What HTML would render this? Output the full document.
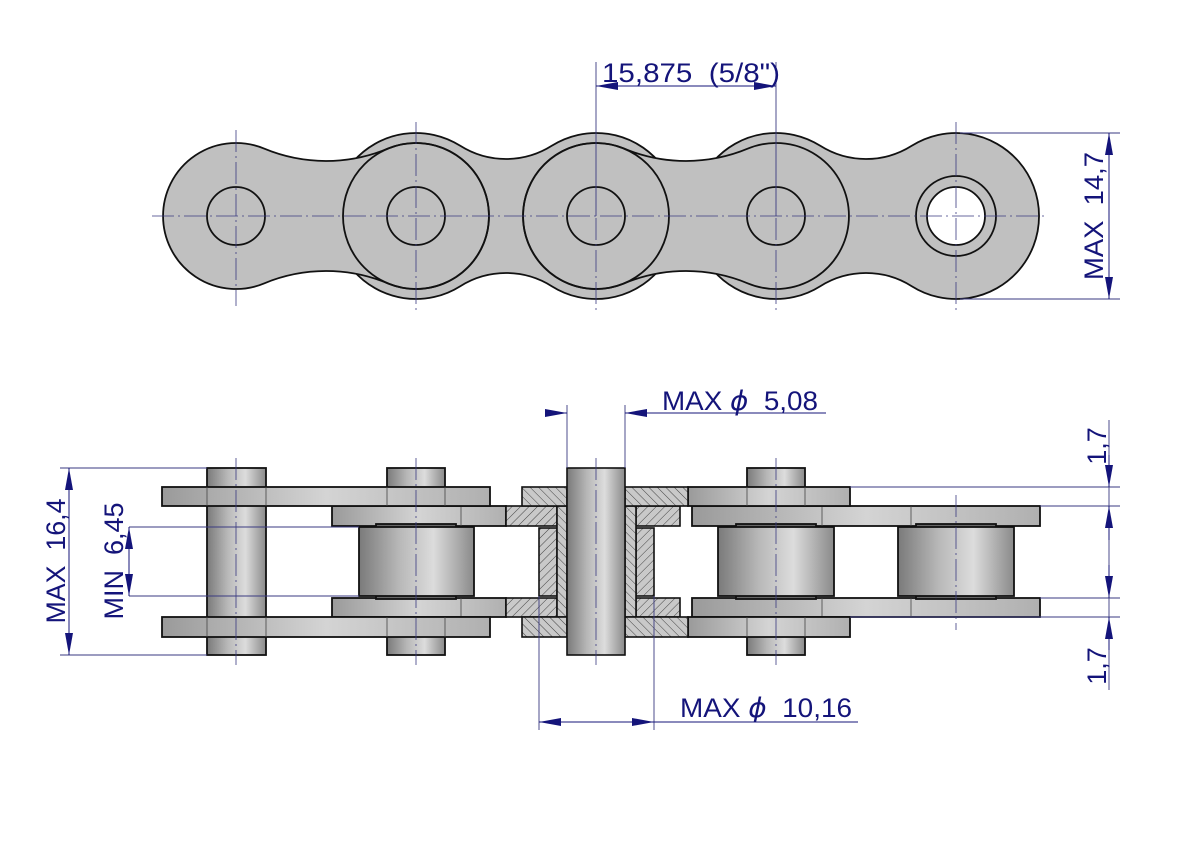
<!DOCTYPE html>
<html><head><meta charset="utf-8"><style>
html,body{margin:0;padding:0;background:#fff;}
svg{display:block;}
text{font-family:"Liberation Sans",sans-serif;fill:#14147a;}
</style></head><body>
<svg width="1191" height="842" viewBox="0 0 1191 842" xmlns="http://www.w3.org/2000/svg">
<defs>
<linearGradient id="cyl" x1="0" y1="0" x2="1" y2="0">
<stop offset="0" stop-color="#7a7a7a"/><stop offset="0.35" stop-color="#b8b8b8"/><stop offset="0.65" stop-color="#dcdcdc"/><stop offset="1" stop-color="#8a8a8a"/></linearGradient>
<linearGradient id="plate" x1="0" y1="0" x2="1" y2="0">
<stop offset="0" stop-color="#9a9a9a"/><stop offset="0.5" stop-color="#d4d4d4"/><stop offset="1" stop-color="#b0b0b0"/></linearGradient>
<pattern id="hA" width="6" height="6" patternUnits="userSpaceOnUse" patternTransform="rotate(45)">
<rect width="6" height="6" fill="#c9c9c9"/><line x1="0" y1="0" x2="0" y2="6" stroke="#333" stroke-width="0.9"/></pattern>
<pattern id="hB" width="6" height="6" patternUnits="userSpaceOnUse" patternTransform="rotate(-45)">
<rect width="6" height="6" fill="#c9c9c9"/><line x1="0" y1="0" x2="0" y2="6" stroke="#333" stroke-width="0.9"/></pattern>
<marker id="ar" viewBox="0 0 22 8" refX="22" refY="4" markerWidth="22" markerHeight="8" orient="auto" markerUnits="userSpaceOnUse">
<path d="M0,0 L22,4 L0,8 z" fill="#14147a"/></marker>
</defs>

<g stroke="#111" stroke-width="1.8" fill="#c0c0c0">
<path d="M460.25,145.8 A85.8,85.8 0 0 0 551.75,145.8 A83,83 0 1 1 551.75,286.2 A85.8,85.8 0 0 0 460.25,286.2 A83,83 0 1 1 460.25,145.8 Z"/>
<path d="M820.25,145.8 A85.8,85.8 0 0 0 911.75,145.8 A83,83 0 1 1 911.75,286.2 A85.8,85.8 0 0 0 820.25,286.2 A83,83 0 1 1 820.25,145.8 Z"/>
<path d="M264.1,148.6 A161,161 0 0 0 387.9,148.6 A73,73 0 1 1 387.9,283.4 A161,161 0 0 0 264.1,283.4 A73,73 0 1 1 264.1,148.6 Z"/>
<path d="M624.1,148.6 A161,161 0 0 0 747.9,148.6 A73,73 0 1 1 747.9,283.4 A161,161 0 0 0 624.1,283.4 A73,73 0 1 1 624.1,148.6 Z"/>
<circle cx="416" cy="216" r="73" fill="none"/>
<circle cx="596" cy="216" r="73" fill="none"/>
<circle cx="236" cy="216" r="29" fill="none"/>
<circle cx="416" cy="216" r="29" fill="none"/>
<circle cx="596" cy="216" r="29" fill="none"/>
<circle cx="776" cy="216" r="29" fill="none"/>
<circle cx="956" cy="216" r="40"/>
<circle cx="956" cy="216" r="29" fill="#fff"/>
</g>
<g stroke="#3a3a80" stroke-width="0.8" stroke-dasharray="22,4,2,4" fill="none">
<line x1="152" y1="216" x2="1045" y2="216"/>
<line x1="236" y1="130" x2="236" y2="306"/>
<line x1="416" y1="122" x2="416" y2="312"/>
<line x1="956" y1="122" x2="956" y2="312"/>
<line x1="596" y1="218" x2="596" y2="312"/>
<line x1="776" y1="218" x2="776" y2="312"/>
</g>
<g stroke="#3a3a80" stroke-width="0.9" fill="none">
<line x1="596" y1="62" x2="596" y2="216"/>
<line x1="776" y1="62" x2="776" y2="216"/>
<line x1="960" y1="133" x2="1120" y2="133"/>
<line x1="960" y1="299" x2="1120" y2="299"/>
</g>
<g stroke="#14147a" stroke-width="1" fill="none">
<line x1="650" y1="86" x2="596" y2="86" marker-end="url(#ar)"/>
<line x1="620" y1="86" x2="776" y2="86" marker-end="url(#ar)"/>
<line x1="1109" y1="216" x2="1109" y2="133" marker-end="url(#ar)"/>
<line x1="1109" y1="216" x2="1109" y2="299" marker-end="url(#ar)"/>
</g>
<text x="602" y="82" font-size="27" textLength="178" lengthAdjust="spacingAndGlyphs" xml:space="preserve">15,875  (5/8")</text>
<text transform="translate(1103,216) rotate(-90)" text-anchor="middle" font-size="27" textLength="128" lengthAdjust="spacingAndGlyphs" xml:space="preserve">MAX  14,7</text>

<g stroke="#111" stroke-width="1.8" fill="url(#cyl)">
<rect x="207" y="468" width="59" height="187"/>
<rect x="387" y="468" width="58" height="187"/>
<rect x="747" y="468" width="58" height="187"/>
</g>
<g stroke="#111" stroke-width="1.8" fill="url(#plate)">
<rect x="332" y="506" width="174" height="20"/>
<rect x="332" y="598" width="174" height="19"/>
<rect x="692" y="506" width="348" height="20"/>
<rect x="692" y="598" width="348" height="19"/>
</g>
<g stroke="#444" stroke-width="0.8">
<line x1="822" y1="506" x2="822" y2="526"/><line x1="911" y1="506" x2="911" y2="526"/>
<line x1="822" y1="598" x2="822" y2="617"/><line x1="911" y1="598" x2="911" y2="617"/>
<line x1="461" y1="506" x2="461" y2="526"/><line x1="461" y1="598" x2="461" y2="617"/>
</g>
<g stroke="#111" stroke-width="1.8" fill="url(#cyl)">
<rect x="376" y="524" width="80" height="4" fill="#666"/>
<rect x="376" y="595" width="80" height="4" fill="#666"/>
<rect x="359" y="527" width="115" height="69"/>
<rect x="736" y="524" width="80" height="4" fill="#666"/>
<rect x="736" y="595" width="80" height="4" fill="#666"/>
<rect x="718" y="527" width="116" height="69"/>
<rect x="916" y="524" width="80" height="4" fill="#666"/>
<rect x="916" y="595" width="80" height="4" fill="#666"/>
<rect x="898" y="527" width="116" height="69"/>
</g>
<g stroke="#111" stroke-width="1.8" fill="url(#plate)">
<rect x="162" y="487" width="328" height="19"/>
<rect x="162" y="617" width="328" height="20"/>
<rect x="688" y="487" width="162" height="19"/>
<rect x="688" y="617" width="162" height="20"/>
</g>
<g stroke="#444" stroke-width="0.8">
<line x1="207" y1="487" x2="207" y2="506"/><line x1="266" y1="487" x2="266" y2="506"/>
<line x1="387" y1="487" x2="387" y2="506"/><line x1="445" y1="487" x2="445" y2="506"/>
<line x1="207" y1="617" x2="207" y2="637"/><line x1="266" y1="617" x2="266" y2="637"/>
<line x1="387" y1="617" x2="387" y2="637"/><line x1="445" y1="617" x2="445" y2="637"/>
<line x1="747" y1="487" x2="747" y2="506"/><line x1="805" y1="487" x2="805" y2="506"/>
<line x1="747" y1="617" x2="747" y2="637"/><line x1="805" y1="617" x2="805" y2="637"/>
</g>
<g stroke="#111" stroke-width="1.6">
<rect x="506" y="506" width="51" height="20" fill="url(#hA)"/>
<rect x="506" y="598" width="51" height="19" fill="url(#hA)"/>
<rect x="636" y="506" width="44" height="20" fill="url(#hA)"/>
<rect x="636" y="598" width="44" height="19" fill="url(#hA)"/>
<rect x="539" y="528" width="18" height="68" fill="url(#hA)"/>
<rect x="636" y="528" width="18" height="68" fill="url(#hA)"/>
<rect x="557" y="506" width="10" height="111" fill="url(#hB)"/>
<rect x="625" y="506" width="11" height="111" fill="url(#hB)"/>
<rect x="522" y="487" width="45" height="19" fill="url(#hB)"/>
<rect x="522" y="617" width="45" height="20" fill="url(#hB)"/>
<rect x="625" y="487" width="63" height="19" fill="url(#hB)"/>
<rect x="625" y="617" width="63" height="20" fill="url(#hB)"/>
<rect x="567" y="468" width="58" height="187" fill="url(#cyl)"/>
</g>
<g stroke="#3a3a80" stroke-width="0.8" stroke-dasharray="22,4,2,4" fill="none">
<line x1="236" y1="458" x2="236" y2="665"/>
<line x1="416" y1="458" x2="416" y2="665"/>
<line x1="596" y1="458" x2="596" y2="665"/>
<line x1="776" y1="458" x2="776" y2="665"/>
<line x1="956" y1="495" x2="956" y2="630"/>
</g>
<g stroke="#3a3a80" stroke-width="0.9" fill="none">
<line x1="60" y1="468" x2="207" y2="468"/>
<line x1="60" y1="655" x2="207" y2="655"/>
<line x1="129" y1="527" x2="359" y2="527"/>
<line x1="129" y1="596" x2="359" y2="596"/>
<line x1="567" y1="405" x2="567" y2="468"/>
<line x1="625" y1="405" x2="625" y2="468"/>
<line x1="539" y1="596" x2="539" y2="730"/>
<line x1="654" y1="596" x2="654" y2="730"/>
<line x1="850" y1="487" x2="1120" y2="487"/>
<line x1="1040" y1="506" x2="1120" y2="506"/>
<line x1="1040" y1="598" x2="1120" y2="598"/>
<line x1="850" y1="617" x2="1120" y2="617"/>
<line x1="1109" y1="420" x2="1109" y2="690"/>
</g>
<g stroke="#14147a" stroke-width="1" fill="none">
<line x1="69" y1="560" x2="69" y2="468" marker-end="url(#ar)"/>
<line x1="69" y1="560" x2="69" y2="655" marker-end="url(#ar)"/>
<line x1="129" y1="560" x2="129" y2="527" marker-end="url(#ar)"/>
<line x1="129" y1="560" x2="129" y2="596" marker-end="url(#ar)"/>
<line x1="545" y1="413" x2="567" y2="413" marker-end="url(#ar)"/>
<line x1="826" y1="413" x2="625" y2="413" marker-end="url(#ar)"/>
<line x1="600" y1="722" x2="539" y2="722" marker-end="url(#ar)"/>
<line x1="580" y1="722" x2="654" y2="722" marker-end="url(#ar)"/>
<line x1="654" y1="722" x2="858" y2="722"/>
<line x1="1109" y1="455" x2="1109" y2="487" marker-end="url(#ar)"/>
<line x1="1109" y1="540" x2="1109" y2="506" marker-end="url(#ar)"/>
<line x1="1109" y1="565" x2="1109" y2="598" marker-end="url(#ar)"/>
<line x1="1109" y1="650" x2="1109" y2="617" marker-end="url(#ar)"/>
</g>
<text x="662" y="410" font-size="27" textLength="156" lengthAdjust="spacingAndGlyphs" xml:space="preserve">MAX <tspan font-family="DejaVu Sans" font-style="italic">ϕ</tspan>  5,08</text>
<text x="680" y="717" font-size="27" textLength="172" lengthAdjust="spacingAndGlyphs" xml:space="preserve">MAX <tspan font-family="DejaVu Sans" font-style="italic">ϕ</tspan>  10,16</text>
<text transform="translate(65,561) rotate(-90)" text-anchor="middle" font-size="27" textLength="125" lengthAdjust="spacingAndGlyphs" xml:space="preserve">MAX  16,4</text>
<text transform="translate(123,561) rotate(-90)" text-anchor="middle" font-size="27" textLength="117" lengthAdjust="spacingAndGlyphs" xml:space="preserve">MIN  6,45</text>
<text transform="translate(1106,446) rotate(-90)" text-anchor="middle" font-size="27">1,7</text>
<text transform="translate(1106,666) rotate(-90)" text-anchor="middle" font-size="27">1,7</text>
</svg>
</body></html>
